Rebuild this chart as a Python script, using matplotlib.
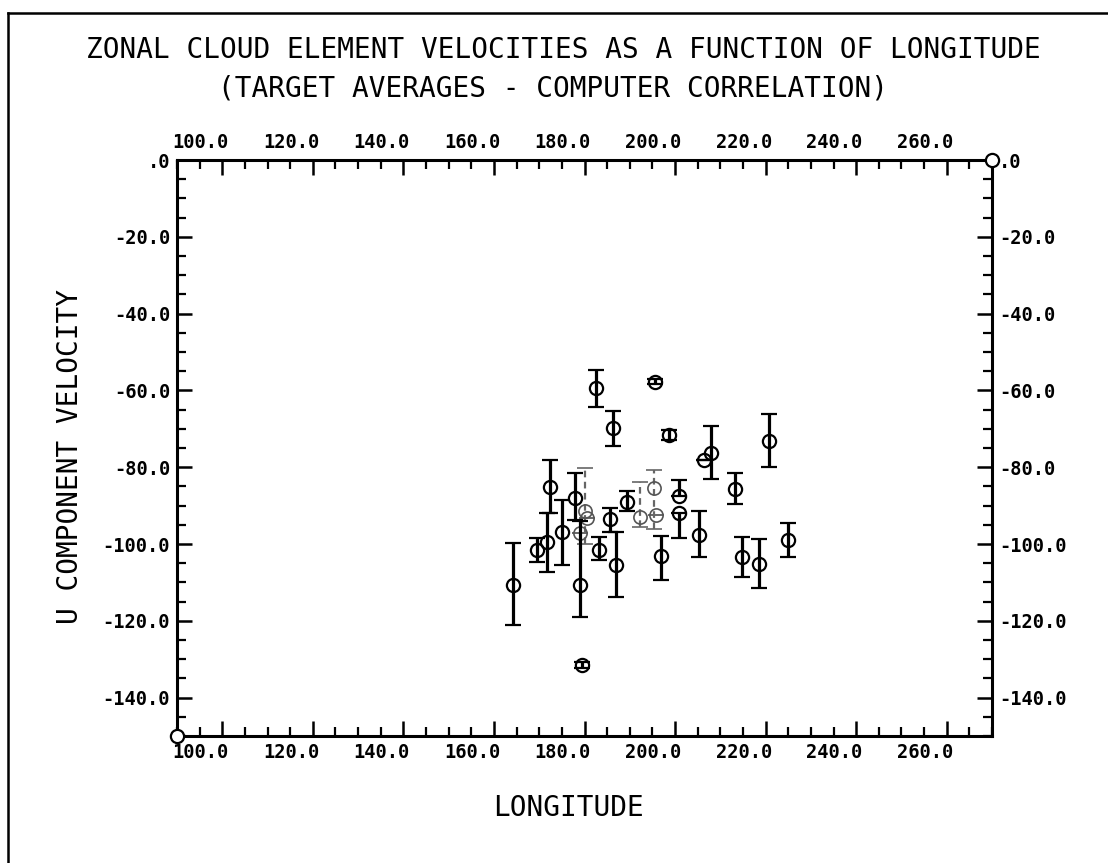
import matplotlib
matplotlib.use("Agg")
import matplotlib.pyplot as plt
from matplotlib.lines import Line2D
import numpy as np

# ---------------- data ----------------
lon = [174.1, 179.5, 181.7, 182.4, 185.0, 188.0, 188.9, 193.1, 195.7, 196.9,
       192.6, 196.2, 205.5, 208.7, 216.3, 217.9, 223.2, 224.8, 199.4, 206.9,
       210.9, 210.9, 215.2, 189.4, 230.7, 235.0, 228.6]
u = [-110.7, -101.6, -99.6, -85.1, -97.0, -88.1, -110.7, -101.6, -93.5, -105.5,
     -59.5, -69.9, -57.7, -71.6, -78.0, -76.4, -85.7, -103.5, -89.0, -103.0,
     -87.4, -91.8, -97.7, -131.5, -73.1, -99.0, -105.2]
bar_top = [-99.8, -98.5, -91.8, -78.0, -88.5, -81.6, -94.0, -98.1, -90.7, -97.0,
           -54.8, -65.3, -57.0, -70.3, -78.0, -69.3, -81.4, -98.1, -86.3, -98.0,
           -83.3, -91.8, -91.4, -130.8, -66.1, -94.6, -98.8]
bar_bot = [-121.1, -104.6, -107.2, -91.8, -105.5, -93.8, -118.9, -104.2, -96.8, -113.7,
           -64.2, -74.5, -58.4, -72.9, -78.0, -83.2, -89.7, -108.7, -91.5, -109.4,
           -87.4, -98.5, -103.5, -132.2, -80.0, -103.5, -111.5]

# faint (poorly reproduced) points in the dense cluster
faint_lon = [190.2, 190.5, 189.0, 202.3, 205.3, 205.8]
faint_u = [-91.5, -93.3, -97.2, -92.9, -85.5, -92.4]
faint_top = [-80.3, -93.3, -97.2, -83.8, -80.7, -92.4]
faint_bot = [-100.0, -93.3, -97.2, -95.5, -96.0, -92.4]

corner_lon = [100.0, 280.0]
corner_u = [-150.0, 0.0]

x_label_vals = [100, 120, 140, 160, 180, 200, 220, 240, 260]
y_label_vals = [0, -20, -40, -60, -80, -100, -120, -140]

title1 = "ZONAL CLOUD ELEMENT VELOCITIES AS A FUNCTION OF LONGITUDE"
title2 = "(TARGET AVERAGES - COMPUTER CORRELATION)"
xlabel = "LONGITUDE"
ylabel = "U COMPONENT VELOCITY"

# ---------------- figure ----------------
W, H = 1108, 863
fig = plt.figure(figsize=(W / 100, H / 100), dpi=100)
FONT = "DejaVu Sans Mono"

x0, x1, ytop, ybot = 177, 992, 160, 736
ax = fig.add_axes([x0 / W, 1 - ybot / H, (x1 - x0) / W, (ybot - ytop) / H])
ax.set_xlim(100, 280)
ax.set_ylim(-150, 0)

for sp in ax.spines.values():
    sp.set_linewidth(2.2)
    sp.set_color("black")

# ticks
ax.set_xticks(np.arange(110, 271, 20))
ax.set_xticks(np.arange(100, 281, 5), minor=True)
ax.set_yticks(y_label_vals)
ax.set_yticks(np.arange(-150, 1, 5), minor=True)
ax.tick_params(axis="both", which="major", direction="in", length=11, width=1.8,
               top=True, right=True)
ax.tick_params(axis="both", which="minor", direction="in", length=6.5, width=1.6,
               top=True, right=True)
ax.tick_params(axis="x", which="both", labelbottom=False, labeltop=False)
ax.tick_params(axis="y", which="major", labelleft=True, labelright=True, pad=5)
ylabels = [".0" if v == 0 else f"{v:.1f}" for v in y_label_vals]
ax.set_yticklabels(ylabels, fontfamily=FONT, fontsize=13.5, fontweight="bold")

# x labels (left aligned at their values, top and bottom)
trans = ax.get_xaxis_transform()
for v in x_label_vals:
    ax.text(v - 1, -0.028, f"{v:.1f}", transform=trans, ha="left", va="center",
            fontfamily=FONT, fontsize=13.5, fontweight="bold", clip_on=False)
    ax.text(v - 1, 1.031, f"{v:.1f}", transform=trans, ha="left", va="center",
            fontfamily=FONT, fontsize=13.5, fontweight="bold", clip_on=False)

# data
lon_a = np.array(lon); u_a = np.array(u)
yerr = [u_a - np.array(bar_bot), np.array(bar_top) - u_a]
ax.errorbar(lon_a, u_a, yerr=yerr, fmt="o", mfc="none", mec="black", mew=1.6,
            ms=9.5, ecolor="black", elinewidth=2.3, capsize=5.5, capthick=2.3,
            zorder=3)

flon = np.array(faint_lon); fu = np.array(faint_u)
ferr = [fu - np.array(faint_bot), np.array(faint_top) - fu]
eb = ax.errorbar(flon, fu, yerr=ferr, fmt="o", mfc="none", mec="#555555", mew=1.2,
                 ms=9.5, ecolor="#666666", elinewidth=1.6, capsize=5.5, capthick=1.6,
                 zorder=2)
for col in eb[2]:
    col.set_linestyle((0, (3, 2)))

ax.plot(corner_lon, corner_u, "o", mfc="white", mec="black", mew=1.6, ms=9.5,
        clip_on=False, zorder=5)

# titles and axis labels
fig.text(563 / W, 1 - 50 / H, title1, ha="center", va="center",
         fontfamily=FONT, fontsize=20)
fig.text(553 / W, 1 - 88 / H, title2, ha="center", va="center",
         fontfamily=FONT, fontsize=20)
fig.text(569 / W, 1 - 808 / H, xlabel, ha="center", va="center",
         fontfamily=FONT, fontsize=20)
fig.text(70 / W, 1 - 456 / H, ylabel, ha="center", va="center", rotation=90,
         fontfamily=FONT, fontsize=20)

# outer frame of the page
fig.add_artist(Line2D([8 / W, 1.0], [1 - 13 / H, 1 - 13 / H], color="black",
                      lw=1.8, transform=fig.transFigure))
fig.add_artist(Line2D([8 / W, 8 / W], [0.0, 1 - 13 / H], color="black",
                      lw=1.8, transform=fig.transFigure))

fig.savefig("out.png", dpi=100, facecolor="white")
